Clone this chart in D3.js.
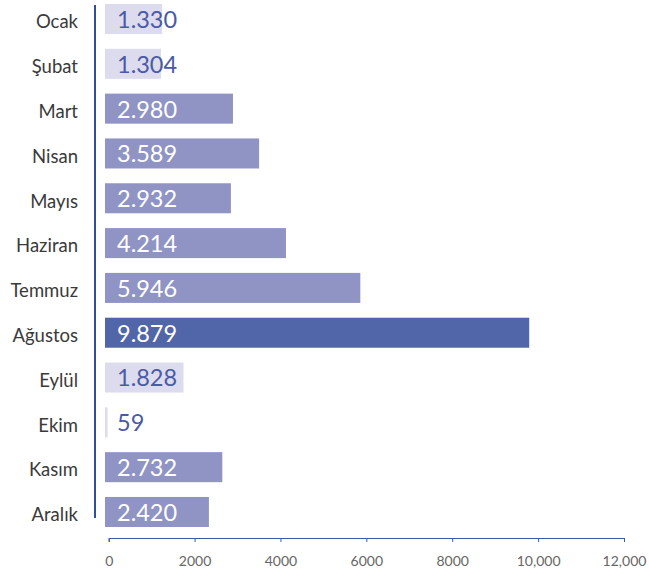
<!DOCTYPE html>
<html>
<head>
<meta charset="utf-8">
<script src="https://cdn.jsdelivr.net/npm/d3@7"></script>
<style>
  body { margin: 0; background: #fff; }
  svg text { font-family: "Lato", "Open Sans", sans-serif; }
</style>
</head>
<body>
<div id="chart"></div>
<script>
// Data
const months = ["Ocak", "Şubat", "Mart", "Nisan", "Mayıs", "Haziran", "Temmuz", "Ağustos", "Eylül", "Ekim", "Kasım", "Aralık"];
const values = [1330, 1304, 2980, 3589, 2932, 4214, 5946, 9879, 1828, 59, 2732, 2420];
const valueLabels = ["1.330", "1.304", "2.980", "3.589", "2.932", "4.214", "5.946", "9.879", "1.828", "59", "2.732", "2.420"];
const tickValues = [0, 2000, 4000, 6000, 8000, 10000, 12000];
const tickLabels = ["0", "2000", "4000", "6000", "8000", "10,000", "12,000"];

const width = 649, height = 571;

const svg = d3.select("#chart")
    .append("svg")
    .attr("width", width)
    .attr("height", height);

// Scales
const x = d3.scaleLinear()
    .domain([0, 12000])
    .range([105, 620.3]);

const y = d3.scaleBand()
    .domain(months)
    .range([4, 527])
    .paddingInner(0.33)
    .paddingOuter(0);

const maxVal = d3.max(values);
function barColor(v) {
    if (v === maxVal) return "#5166a8";
    if (v < 2000) return "#dcdcee";
    return "#8f94c4";
}

const rows = months.map((m, i) => ({ month: m, value: values[i], label: valueLabels[i] }));

// Bars
svg.append("g")
    .selectAll("rect")
    .data(rows)
    .join("rect")
    .attr("x", x(0))
    .attr("y", d => y(d.month))
    .attr("width", d => x(d.value) - x(0))
    .attr("height", y.bandwidth())
    .attr("fill", d => barColor(d.value));

// Value labels inside bars
svg.append("g")
    .selectAll("text")
    .data(rows)
    .join("text")
    .attr("x", x(0) + 12)
    .attr("y", d => y(d.month) + y.bandwidth() / 2)
    .attr("dy", "0.38em")
    .style("font-size", "23.5px")
    .attr("fill", d => d.value < 2000 ? "#4a5aa6" : "#ffffff")
    .text(d => d.label);

// Month labels
svg.append("g")
    .selectAll("text")
    .data(rows)
    .join("text")
    .attr("x", 78)
    .attr("y", d => y(d.month) + y.bandwidth() / 2)
    .attr("dy", "0.5em")
    .attr("text-anchor", "end")
    .style("font-size", "18.5px")
    .attr("fill", "#3a3a3a")
    .text(d => d.month);

// Vertical axis line
svg.append("line")
    .attr("x1", 95).attr("x2", 95)
    .attr("y1", 5).attr("y2", 518)
    .attr("stroke", "#2f4f9a")
    .attr("stroke-width", 2);

// X axis (shifted slightly right of the bar origin, as in the original)
const xAxis = svg.append("g")
    .attr("transform", "translate(3.7, 538)")
    .call(d3.axisBottom(x)
        .tickValues(tickValues)
        .tickFormat((d, i) => tickLabels[i])
        .tickSize(4)
        .tickPadding(14));

xAxis.select(".domain").attr("stroke", "#3a5aa8");
xAxis.selectAll(".tick line").attr("stroke", "#3a5aa8");
xAxis.selectAll(".tick text")
    .attr("fill", "#666")
    .style("font-size", "14px")
    .style("font-family", "Lato, sans-serif");
</script>
</body>
</html>
